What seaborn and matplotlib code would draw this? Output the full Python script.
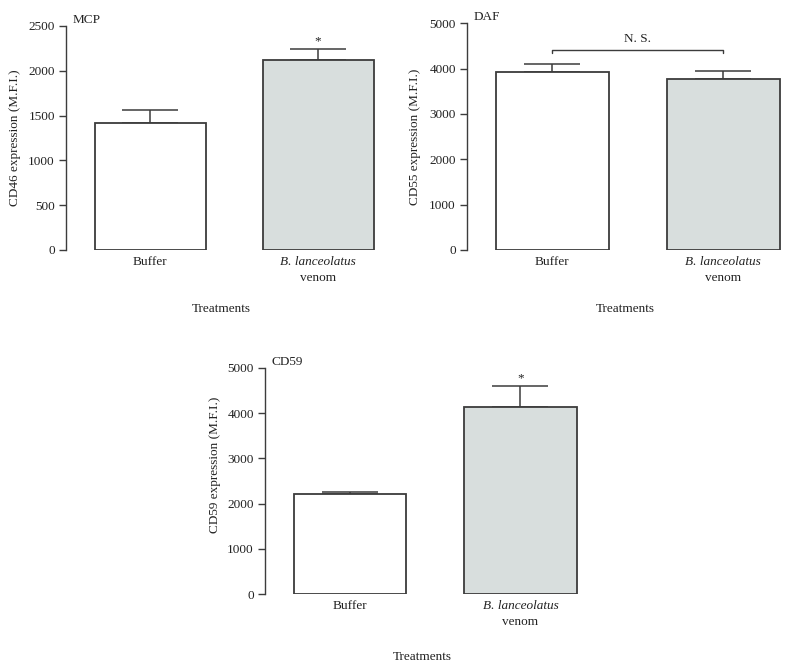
import matplotlib
matplotlib.use("Agg")
import matplotlib.pyplot as plt
import seaborn as sns
import pandas as pd

sns.set_theme(style="white")
plt.rcParams['font.family'] = ['Liberation Serif', 'DejaVu Serif']

treatments = ["Buffer", "B. lanceolatus venom"]
tick_main = ["Buffer", "B. lanceolatus"]
tick_sub = ["", "venom"]
tick_italic = [False, True]

mcp_values = [1421, 2120]
mcp_errors = [145, 120]
daf_values = [3933, 3778]
daf_errors = [169, 177]
cd59_values = [2212, 4138]
cd59_errors = [51, 463]

bar_colors = ["#ffffff", "#d7dfdd"]
edge = "#3c3c3c"
txt = "#222222"
fs = 9.5

W, H = 788, 668
fig = plt.figure(figsize=(W / 100, H / 100), dpi=100)


def make_ax(left, right, top, bottom):
    return fig.add_axes([left / W, 1 - bottom / H, (right - left) / W, (bottom - top) / H])


def panel(ax, values, errors, ymax, step, title, ylabel, stars=None, ns=None, xlabel_pad=33,
          ylabel_xy=(-0.145, 0.5)):
    df = pd.DataFrame({"Treatment": treatments, "value": values})
    sns.barplot(data=df, x="Treatment", y="value", hue="Treatment", palette=bar_colors,
                width=0.66, edgecolor=edge, linewidth=1.3, errorbar=None, legend=False,
                ax=ax, zorder=3)
    ax.errorbar([0, 1], values, yerr=[[0, 0], errors], fmt="none", ecolor=edge,
                elinewidth=1.1, capsize=20, capthick=1.1, zorder=2)
    ax.set_xlim(-0.5, 1.35)
    ax.set_ylim(0, ymax)
    ax.set_yticks(range(0, ymax + 1, step))
    ax.set_xticks([0, 1])
    ax.set_xticklabels(["", ""])
    for i in range(2):
        ax.annotate(tick_main[i], xy=(i, 0), xycoords=("data", "axes fraction"),
                    xytext=(0, -4), textcoords="offset points", ha="center", va="top",
                    fontsize=fs, color=txt, fontstyle="italic" if tick_italic[i] else "normal")
        if tick_sub[i]:
            ax.annotate(tick_sub[i], xy=(i, 0), xycoords=("data", "axes fraction"),
                        xytext=(0, -15.5), textcoords="offset points", ha="center", va="top",
                        fontsize=fs, color=txt)
    ax.tick_params(axis="x", length=0, pad=5)
    ax.tick_params(axis="y", length=5, width=1, color=edge, labelsize=fs, labelcolor=txt,
                   direction="out", left=True, pad=3)
    for s in ["top", "right", "bottom"]:
        ax.spines[s].set_visible(False)
    ax.spines["left"].set_color(edge)
    ax.spines["left"].set_linewidth(1.0)
    ax.set_ylabel(ylabel, fontsize=fs, color=txt)
    ax.yaxis.set_label_coords(*ylabel_xy)
    ax.set_xlabel("Treatments", fontsize=fs, color=txt, labelpad=xlabel_pad)
    ax.text(0.02, 1.0, title, transform=ax.transAxes, fontsize=fs, color=txt,
            ha="left", va="bottom")
    if stars:
        for i in stars:
            ax.text(i, values[i] + errors[i] + ymax * 0.008, "*", ha="center", va="bottom",
                    fontsize=fs, color=txt)
    if ns is not None:
        ax.plot([0, 0, 1, 1], [ns - ymax * 0.012, ns, ns, ns - ymax * 0.012], color=edge,
                lw=1.0, clip_on=False)
        ax.text(0.5, ns + ymax * 0.02, "N. S.", ha="center", va="bottom", fontsize=fs,
                color=txt)


ax1 = make_ax(66, 377, 26, 250)
panel(ax1, mcp_values, mcp_errors, 2500, 500, "MCP", "CD46 expression (M.F.I.)", stars=[1])

ax2 = make_ax(467, 783, 23.3, 250)
panel(ax2, daf_values, daf_errors, 5000, 1000, "DAF", "CD55 expression (M.F.I.)", ns=4411,
      ylabel_xy=(-0.146, 0.5))

ax3 = make_ax(265, 580, 367.7, 594.3)
panel(ax3, cd59_values, cd59_errors, 5000, 1000, "CD59", "CD59 expression (M.F.I.)", stars=[1],
      xlabel_pad=36, ylabel_xy=(-0.14, 0.57))

fig.savefig("out.png", dpi=100, facecolor="white")
